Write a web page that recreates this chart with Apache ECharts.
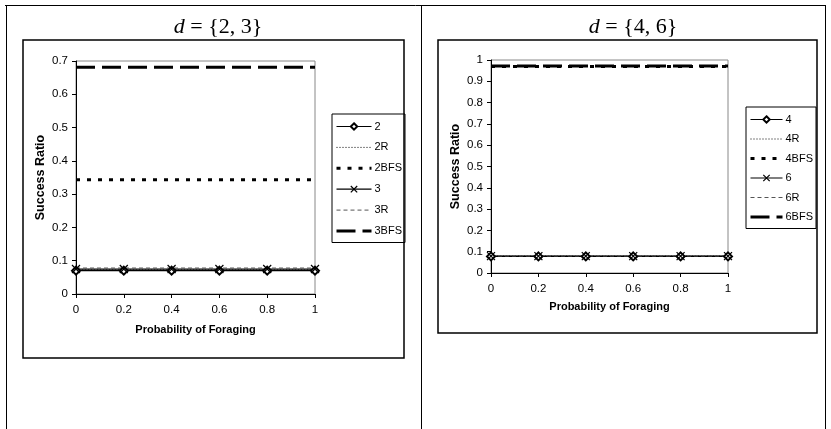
<!DOCTYPE html>
<html><head><meta charset="utf-8">
<script src="https://cdn.jsdelivr.net/npm/echarts@6/dist/echarts.min.js"></script>
<style>html,body{margin:0;padding:0;background:#fff}#c{width:831px;height:429px}</style>
</head><body><div id="c"></div>
<script>
// ---- data ----
const xs = [0, 0.2, 0.4, 0.6, 0.8, 1];
const xTickLabels = ['0', '0.2', '0.4', '0.6', '0.8', '1'];
const leftTitle = '{2, 3}';
const rightTitle = '{4, 6}';
const xName = 'Probability of Foraging';
const yName = 'Success Ratio';

const leftNames = ['2', '2R', '2BFS', '3', '3R', '3BFS'];
const v2    = [0.070, 0.070, 0.070, 0.070, 0.070, 0.070];
const v2R   = [0.072, 0.072, 0.072, 0.072, 0.072, 0.072];
const v2BFS = [0.343, 0.343, 0.343, 0.343, 0.343, 0.343];
const v3    = [0.075, 0.075, 0.075, 0.075, 0.075, 0.075];
const v3R   = [0.078, 0.078, 0.078, 0.078, 0.078, 0.078];
const v3BFS = [0.681, 0.681, 0.681, 0.681, 0.681, 0.681];

const rightNames = ['4', '4R', '4BFS', '6', '6R', '6BFS'];
const v4    = [0.078, 0.078, 0.078, 0.078, 0.078, 0.078];
const v4R   = [0.079, 0.079, 0.079, 0.079, 0.079, 0.079];
const v4BFS = [0.970, 0.970, 0.970, 0.970, 0.970, 0.970];
const v6    = [0.079, 0.079, 0.079, 0.079, 0.079, 0.079];
const v6R   = [0.080, 0.080, 0.080, 0.080, 0.080, 0.080];
const v6BFS = [0.972, 0.972, 0.972, 0.972, 0.972, 0.972];

// ---- styles ----
const FONT = 'Liberation Sans';
const NOSYM = {color: 'rgba(0,0,0,0)', borderColor: 'rgba(0,0,0,0)', borderWidth: 0};
const styles = {
  diamond: {symbol: 'emptyDiamond', symbolSize: 8, lineStyle: {color: '#000', width: 1.2, type: 'solid'},
            itemStyle: {color: '#000', borderColor: '#000', borderWidth: 1}},
  cross: {symbol: 'path://M0,0L10,10M10,0L0,10', symbolSize: 8, lineStyle: {color: '#000', width: 1.2, type: 'solid'},
          itemStyle: {color: '#000', borderColor: '#000', borderWidth: 1.2}},
  dotted: {symbol: 'none', lineStyle: {color: '#000', width: 1, type: [1, 2]}, itemStyle: NOSYM},
  bfsDot: {symbol: 'none', lineStyle: {color: '#000', width: 3, type: [4, 7]}, itemStyle: NOSYM},
  dashed: {symbol: 'none', lineStyle: {color: '#555', width: 1, type: [4, 3]}, itemStyle: NOSYM},
  bfsDash: {symbol: 'none', lineStyle: {color: '#000', width: 3, type: [19, 7]}, itemStyle: NOSYM}
};
const styleOrder = ['diamond', 'dotted', 'bfsDot', 'cross', 'dashed', 'bfsDash'];

function clone(o) { return JSON.parse(JSON.stringify(o)); }
function mk(name, vals, gi, st) {
  return Object.assign({
    type: 'line', name: name, xAxisIndex: gi, yAxisIndex: gi, silent: true,
    data: xs.map((x, i) => [x, vals[i]])
  }, clone(styles[st]));
}

const leftVals = [v2, v2R, v2BFS, v3, v3R, v3BFS];
const rightVals = [v4, v4R, v4BFS, v6, v6R, v6BFS];
const series = [];
leftNames.forEach((n, i) => series.push(mk(n, leftVals[i], 0, styleOrder[i])));
rightNames.forEach((n, i) => series.push(mk(n, rightVals[i], 1, styleOrder[i])));

function xAxis(gi, nameGap) {
  return {
    type: 'value', gridIndex: gi, min: 0, max: 1, interval: 0.2,
    name: xName, nameLocation: 'middle', nameGap: nameGap,
    nameTextStyle: {fontFamily: FONT, fontSize: 11, fontWeight: 'bold', color: '#000'},
    axisLine: {lineStyle: {color: '#000', width: 1}},
    axisTick: {show: true, length: 4, lineStyle: {color: '#000'}},
    axisLabel: {fontFamily: FONT, fontSize: 11.5, color: '#000', margin: 10,
                formatter: v => xTickLabels[Math.round(v * 5)]},
    splitLine: {show: false}
  };
}
function yAxis(gi, max, nameGap) {
  return {
    type: 'value', gridIndex: gi, min: 0, max: max, interval: 0.1,
    name: yName, nameLocation: 'middle', nameGap: nameGap, nameRotate: 90,
    nameTextStyle: {fontFamily: FONT, fontSize: 12.5, fontWeight: 'bold', color: '#000'},
    axisLine: {show: true, lineStyle: {color: '#000', width: 1}},
    axisTick: {show: true, length: 4, lineStyle: {color: '#000'}},
    axisLabel: {fontFamily: FONT, fontSize: 11.5, color: '#000', margin: 8,
                formatter: v => (Math.round(v * 10) / 10).toString()},
    splitLine: {show: false}
  };
}

function legend(names, left, top, itemWidth, gap) {
  return {
    data: names.map((n, i) => {
      const s = styles[styleOrder[i]];
      return {name: n, lineStyle: {width: s.lineStyle.width, type: s.lineStyle.type, color: s.lineStyle.color},
              itemStyle: clone(s.itemStyle)};
    }),
    orient: 'vertical', left: left, top: top,
    itemWidth: itemWidth, itemHeight: 8, itemGap: gap,
    padding: [7, 3, 6, 3], borderColor: '#000', borderWidth: 1,
    selectedMode: false, inactiveColor: '#000',
    textStyle: {fontFamily: FONT, fontSize: 11, color: '#000', padding: [0, 0, 0, -2]}
  };
}

const chart = echarts.init(document.getElementById('c'), null, {renderer: 'canvas'});
const titleStyle = {fontFamily: 'Liberation Serif', fontSize: 22, fontWeight: 'normal', color: '#000',
  rich: {i: {fontFamily: 'Liberation Serif', fontSize: 22, fontStyle: 'italic', color: '#000'}}};
chart.setOption({
  animation: false,
  backgroundColor: '#fff',
  title: [
    {text: '{i|d} = ' + leftTitle, left: 213, top: 11, textAlign: 'center', textStyle: titleStyle},
    {text: '{i|d} = ' + rightTitle, left: 628, top: 11, textAlign: 'center', textStyle: titleStyle}
  ],
  grid: [
    {left: 76, top: 61, width: 239, height: 233, show: true, borderColor: '#888', borderWidth: 1, backgroundColor: 'transparent'},
    {left: 491, top: 60, width: 237, height: 213, show: true, borderColor: '#888', borderWidth: 1, backgroundColor: 'transparent'}
  ],
  xAxis: [xAxis(0, 30), xAxis(1, 28)],
  yAxis: [yAxis(0, 0.7, 29), yAxis(1, 1, 29)],
  legend: [legend(leftNames, 332, 114, 35, 9.9), legend(rightNames, 746, 107, 32, 8.5)],
  series: series,
  graphic: [
    {type: 'rect', shape: {x: 23, y: 40, width: 381, height: 318}, style: {fill: 'none', stroke: '#000', lineWidth: 1.5}, silent: true},
    {type: 'rect', shape: {x: 438, y: 40, width: 379, height: 293}, style: {fill: 'none', stroke: '#000', lineWidth: 1.5}, silent: true},
    {type: 'line', shape: {x1: 5, y1: 5.5, x2: 826, y2: 5.5}, style: {stroke: '#000', lineWidth: 1}, silent: true},
    {type: 'line', shape: {x1: 6.5, y1: 5, x2: 6.5, y2: 429}, style: {stroke: '#000', lineWidth: 1}, silent: true},
    {type: 'line', shape: {x1: 421.5, y1: 5, x2: 421.5, y2: 429}, style: {stroke: '#000', lineWidth: 1}, silent: true},
    {type: 'line', shape: {x1: 825.5, y1: 5, x2: 825.5, y2: 429}, style: {stroke: '#000', lineWidth: 1}, silent: true}
  ]
});
</script>
</body></html>
